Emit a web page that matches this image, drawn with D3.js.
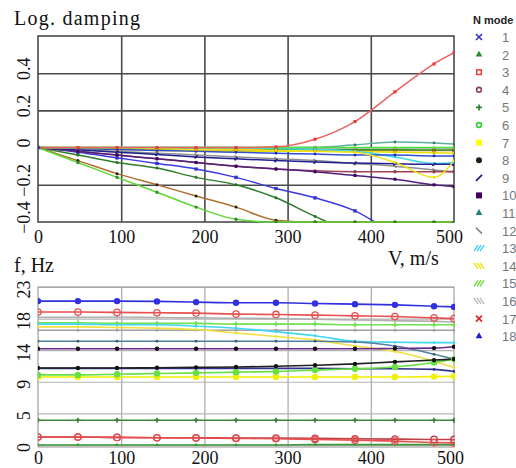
<!DOCTYPE html>
<html><head><meta charset="utf-8">
<script src="https://cdn.jsdelivr.net/npm/d3@7"></script>
<style>body{margin:0;background:#fff}svg{display:block}</style>
</head><body><svg id="c" width="516" height="468"></svg>
<script>
// ---- data ----
const speeds = [0, 48, 95, 143, 190, 238, 286, 333, 381, 429, 476, 500];
const xTicks = [0, 100, 200, 300, 400, 500];
const dampTicks = [0.4, 0.2, 0, -0.2, -0.4];
const dampGrid = [0.4, 0.2, 0, -0.2];
const freqGrid = [0, 4.6, 9.2, 13.8, 18.4, 23];
const freqTickLabels = ["0", "5", "9", "14", "18", "23"];
const modes = [1,2,3,4,5,6,7,8,9,10,11,12,13,14,15,16,17,18];
const modeColors = ["#3333cc","#2e8b2e","#e83c3c","#8b4050","#1f7a1f","#33cc33","#ffff00","#202010","#202080","#400060","#208080","#808080","#33ccff","#f0e000","#66dd33","#b0b0b0","#e02020","#2020cc"];
const modeSymbols = ["x","tri","sq","circ","plus","circ","sqf","dot","slash","sqf","tri","bslash","hatch","bhatch","hatch","bhatch","x","tri"];
const dampLineColors = ["#3a3ae0","#2e9a2e","#f06060","#a04050","#2e7d2e","#44dd44","#e8e000","#b07030","#202090","#50207a","#60b0a0","#909090","#40d8f0","#f0e020","#50e040","#b8b8b8","#e07020","#3050d0"];
const freqLineColors = ["#3a3ae0","#3a9a3a","#e85050","#c04048","#3a8a3a","#66e040","#f0f000","#202020","#303090","#6a2a8a","#5080a0","#a0a0a0","#40d8f0","#f0e040","#70e050","#b0b0b0","#e85050","#3030e0"];
const dampingSeries = [
  [0,-0.025,-0.055,-0.085,-0.115,-0.16,-0.22,-0.27,-0.34,-0.46,-0.52,-0.55],
  [0,-0.004,-0.007,-0.009,-0.01,-0.01,-0.01,-0.01,-0.012,-0.012,-0.013,-0.013],
  [0,0,0,0,0,0,0.004,0.045,0.14,0.30,0.45,0.51],
  [0,-0.02,-0.04,-0.06,-0.08,-0.1,-0.115,-0.125,-0.13,-0.13,-0.13,-0.13],
  [0,-0.04,-0.08,-0.11,-0.16,-0.2,-0.27,-0.37,-0.46,-0.5,-0.52,-0.53],
  [0,-0.08,-0.16,-0.24,-0.32,-0.385,-0.4,-0.4,-0.4,-0.4,-0.4,-0.4],
  [0,-0.005,-0.01,-0.015,-0.018,-0.02,-0.02,-0.02,-0.022,-0.025,-0.028,-0.03],
  [0,-0.07,-0.14,-0.2,-0.26,-0.32,-0.39,-0.4,-0.4,-0.4,-0.4,-0.4],
  [0,-0.012,-0.025,-0.037,-0.05,-0.06,-0.07,-0.078,-0.083,-0.087,-0.09,-0.09],
  [0,-0.02,-0.04,-0.06,-0.08,-0.1,-0.115,-0.13,-0.15,-0.17,-0.2,-0.21],
  [0,0,0,0,0,0,0,0.002,0.015,0.03,0.025,0.02],
  [0,-0.01,-0.02,-0.03,-0.04,-0.05,-0.06,-0.07,-0.085,-0.1,-0.12,-0.13],
  [0,0,0,0,0,0,-0.005,-0.01,-0.02,-0.05,-0.085,-0.08],
  [0,0,0,-0.005,-0.01,-0.01,-0.015,-0.02,-0.025,-0.08,-0.16,-0.07],
  [0,0,0,0,0,0,0,0,0,0,0,0],
  [0,-0.003,-0.004,-0.005,-0.005,-0.005,-0.005,-0.005,-0.005,-0.005,-0.005,-0.005],
  [0,-0.005,-0.008,-0.01,-0.012,-0.013,-0.014,-0.015,-0.015,-0.015,-0.015,-0.015],
  [0,-0.005,-0.01,-0.015,-0.02,-0.025,-0.03,-0.035,-0.04,-0.04,-0.045,-0.045]
];
const frequencySeries = [
  null,
  [0,0,0,0,0,0,0,0.05,0.05,0.05,0.05,0.05],
  [1.15,1.15,1.1,1.05,1.0,0.95,0.9,0.8,0.7,0.55,0.35,0.3],
  [1.15,1.15,1.1,1.05,1.05,1.0,1.0,0.95,0.9,0.85,0.8,0.8],
  [3.6,3.6,3.6,3.6,3.6,3.6,3.6,3.6,3.6,3.6,3.6,3.6],
  [10.2,10.2,10.3,10.4,10.5,10.6,10.7,10.9,11.1,11.35,12.0,12.5],
  [9.9,9.9,9.9,9.9,9.9,9.9,9.9,9.9,9.9,9.9,9.95,10.0],
  [11.2,11.2,11.2,11.25,11.3,11.35,11.45,11.6,11.8,12.1,12.35,12.5],
  [11.15,11.15,11.15,11.15,11.15,11.15,11.15,11.15,11.1,11.1,11.0,10.7],
  [14.0,14.0,14.0,14.0,14.0,14.0,14.0,14.0,14.0,14.05,14.1,14.3],
  [15.1,15.1,15.1,15.1,15.1,15.1,15.1,15.1,15.0,14.4,13.2,12.5],
  [16.7,16.7,16.7,16.7,16.7,16.7,16.7,16.7,16.7,16.7,16.7,16.7],
  [17.6,17.6,17.5,17.5,17.3,17.0,16.5,15.9,15.1,14.95,14.9,14.9],
  [17.2,17.2,17.1,17.0,16.8,16.3,15.8,15.3,14.4,13.6,12.2,11.3],
  [17.8,17.8,17.7,17.7,17.7,17.6,17.6,17.6,17.5,17.5,17.5,17.5],
  [18.6,18.6,18.6,18.55,18.5,18.45,18.4,18.3,18.2,18.1,18.0,17.9],
  [19.35,19.35,19.3,19.25,19.2,19.05,19.0,18.9,18.8,18.7,18.5,18.4],
  [20.95,20.95,20.95,20.9,20.8,20.7,20.7,20.6,20.5,20.4,20.2,20.1]
];
const freqMarkers = [null,"sdot","ocirc","ocirc","plus","fcirc","fcirc","dot","sdot","dot","sdot","sdot","sdot","sdot","plus","sdot","ocirc","fcirc"];

// ---- drawing ----
const svg = d3.select("#c");
const serif = "'Liberation Serif','Times New Roman',serif";
const sans = "'Liberation Sans',Arial,sans-serif";
const x = d3.scaleLinear().domain([0, 500]).range([38, 454]);
const y1 = d3.scaleLinear().domain([-0.4, 0.6]).range([222, 36]);
const y2 = d3.scaleLinear().domain([-0.3, 23]).range([447, 287]);

function sym(g, type, cx, cy, color, s) {
  const t = g.append("g").attr("transform", `translate(${cx},${cy})`);
  const ln = (a,b,c,d,w) => t.append("line").attr("x1",a).attr("y1",b).attr("x2",c).attr("y2",d).attr("stroke",color).attr("stroke-width",w||1.6);
  switch (type) {
    case "x": ln(-s,-s,s,s); ln(-s,s,s,-s); break;
    case "plus": ln(-s,0,s,0); ln(0,-s,0,s); break;
    case "tri": t.append("path").attr("d", d3.symbol(d3.symbolTriangle, s*s*2.2)()).attr("fill", color); break;
    case "sq": t.append("rect").attr("x",-s+0.7).attr("y",-s+0.7).attr("width",2*s-1.4).attr("height",2*s-1.4).attr("fill","none").attr("stroke",color).attr("stroke-width",1.5); break;
    case "sqf": t.append("rect").attr("x",-s).attr("y",-s).attr("width",2*s).attr("height",2*s).attr("fill",color); break;
    case "circ": t.append("circle").attr("r",s-0.6).attr("fill","none").attr("stroke",color).attr("stroke-width",1.6); break;
    case "ocirc": t.append("circle").attr("r",s).attr("fill","none").attr("stroke",color).attr("stroke-width",1.3); break;
    case "dot": t.append("circle").attr("r",s).attr("fill",color); break;
    case "fcirc": t.append("circle").attr("r",s).attr("fill",color); break;
    case "sdot": t.append("circle").attr("r",1.4).attr("fill",color); break;
    case "slash": ln(-s,s,s,-s,1.8); break;
    case "bslash": ln(-s,-s,s,s,1.5); break;
    case "hatch": for (const o of [-3,0,3]) ln(o-2,s,o+2,-s,1.3); break;
    case "bhatch": for (const o of [-3,0,3]) ln(o-2,-s,o+2,s,1.3); break;
  }
}

// clip paths
const defs = svg.append("defs");
defs.append("clipPath").attr("id","clipTop").append("rect").attr("x",38).attr("y",36).attr("width",416).attr("height",187);
defs.append("clipPath").attr("id","clipBot").append("rect").attr("x",38).attr("y",286).attr("width",417).attr("height",162);

// ===== top chart =====
const topG = svg.append("g");
topG.append("g").attr("transform","translate(0,222)")
  .call(d3.axisBottom(x).tickValues([100,200,300,400]).tickSize(-186).tickFormat(""))
  .call(g => g.select(".domain").remove())
  .selectAll("line").attr("stroke","#4a4a4a").attr("stroke-width",1.6);
topG.append("g").attr("transform","translate(38,0)")
  .call(d3.axisLeft(y1).tickValues(dampGrid).tickSize(-416).tickFormat(""))
  .call(g => g.select(".domain").remove())
  .selectAll("line").attr("stroke","#4a4a4a").attr("stroke-width",1.6);
topG.append("rect").attr("x",38).attr("y",36).attr("width",416).attr("height",186)
  .attr("fill","none").attr("stroke","#4a4a4a").attr("stroke-width",1.6);

const lineTop = d3.line().x((d,j) => x(speeds[j])).y(d => y1(d)).curve(d3.curveMonotoneX);
const topData = topG.append("g").attr("clip-path","url(#clipTop)");
const topOrder = [11,15,16,1,6,0,4,7,5,12,3,9,8,17,10,13,14,2];
const topLineColor = i => i === 5 ? "#5ed836" : dampLineColors[i];
topOrder.forEach(i => {
  topData.append("path").attr("d", lineTop(dampingSeries[i])).attr("fill","none")
    .attr("stroke", topLineColor(i)).attr("stroke-width",1.5);
});
topOrder.forEach(i => {
  dampingSeries[i].forEach((v,j) => {
    if (j === 0) return;
    const t = modeSymbols[i];
    const tt = (t === "hatch" || t === "bhatch" || t === "tri") ? "sdot" : t;
    const c = i===5 ? "#3a8a2a" : i===6 ? "#d8d000" : (i===10 ? "#3a7a70" : modeColors[i]);
    sym(topData, tt, x(speeds[j]), y1(v), c, 1.5);
  });
});
topData.append("circle").attr("cx",x(0)).attr("cy",y1(0)).attr("r",2.2).attr("fill","#3333aa");

topG.append("g").attr("transform","translate(0,222)")
  .call(d3.axisBottom(x).tickValues(xTicks).tickSize(0).tickPadding(8).tickFormat(d3.format("d")))
  .call(g => g.select(".domain").remove())
  .selectAll("text").attr("font-family",serif).attr("font-size",18).attr("fill","#111")
  .attr("dx", d => d === 500 ? -5 : 0);
topG.append("g").attr("transform","translate(38,0)")
  .call(d3.axisLeft(y1).tickValues(dampTicks).tickSize(0).tickFormat(d => d === 0 ? "0" : d3.format(".1f")(d)))
  .call(g => g.select(".domain").remove())
  .selectAll("text").attr("font-family",serif).attr("font-size",18).attr("fill","#111")
  .attr("text-anchor","middle").attr("dominant-baseline","central")
  .attr("dy",null).attr("transform","rotate(-90)").attr("x",5).attr("y",-14);

svg.append("text").attr("x",14).attr("y",25).text("Log. damping")
  .attr("font-family",serif).attr("font-size",20).attr("textLength",126).attr("fill","#111");
svg.append("text").attr("x",388).attr("y",265).text("V, m/s")
  .attr("font-family",serif).attr("font-size",20).attr("fill","#111");
svg.append("text").attr("x",14).attr("y",272).text("f, Hz")
  .attr("font-family",serif).attr("font-size",20).attr("fill","#111");

// ===== bottom chart =====
const botG = svg.append("g");
botG.append("g").attr("transform","translate(0,447)")
  .call(d3.axisBottom(x).tickValues([100,200,300,400]).tickSize(-160).tickFormat(""))
  .call(g => g.select(".domain").remove())
  .selectAll("line").attr("stroke","#a8a8a8").attr("stroke-width",1.2);
botG.append("g").attr("transform","translate(38,0)")
  .call(d3.axisLeft(y2).tickValues(freqGrid).tickSize(-416).tickFormat(""))
  .call(g => g.select(".domain").remove())
  .selectAll("line").attr("stroke","#b4b4b4").attr("stroke-width",1.2);
botG.append("rect").attr("x",38).attr("y",287).attr("width",416).attr("height",160)
  .attr("fill","none").attr("stroke","#a0a0a0").attr("stroke-width",1.2);

const lineBot = d3.line().x((d,j) => x(speeds[j])).y(d => y2(d)).curve(d3.curveMonotoneX);
const botData = botG.append("g").attr("clip-path","url(#clipBot)");
const botOrder = [1,3,2,4,15,11,14,12,13,10,9,6,8,5,7,16,17];
botOrder.forEach(i => {
  const s = frequencySeries[i]; if (!s) return;
  botData.append("path").attr("d", lineBot(s)).attr("fill","none")
    .attr("stroke", freqLineColors[i]).attr("stroke-width",1.6);
});
botOrder.forEach(i => {
  const s = frequencySeries[i]; if (!s) return;
  const mc = i===9 || i===7 ? "#111" : i===4 ? "#3a7a3a" : i===10 ? "#406070" : freqLineColors[i];
  s.forEach((v,j) => {
    const t = freqMarkers[i];
    sym(botData, t, x(speeds[j]), y2(v), mc, t === "plus" ? 2.5 : t === "dot" ? 2.2 : 3.2);
  });
});

botG.append("g").attr("transform","translate(0,447)")
  .call(d3.axisBottom(x).tickValues(xTicks).tickSize(0).tickPadding(4).tickFormat(d3.format("d")))
  .call(g => g.select(".domain").remove())
  .selectAll("text").attr("font-family",serif).attr("font-size",18).attr("fill","#111")
  .attr("dx", d => d === 500 ? -4 : 0);
botG.append("g").attr("transform","translate(38,0)")
  .call(d3.axisLeft(y2).tickValues(freqGrid).tickSize(0).tickFormat((d,i) => freqTickLabels[i]))
  .call(g => g.select(".domain").remove())
  .selectAll("text").attr("font-family",serif).attr("font-size",18).attr("fill","#111")
  .attr("text-anchor","middle").attr("dominant-baseline","central")
  .attr("dy",null).attr("transform","rotate(-90)").attr("x",-2).attr("y",-14);

// ===== legend =====
const leg = svg.append("g");
leg.append("text").attr("x",473).attr("y",24).text("N mode")
  .attr("font-family",sans).attr("font-size",11).attr("font-weight","bold").attr("fill","#222");
modes.forEach((m,i) => {
  const cy = 37 + i*17.6;
  sym(leg, modeSymbols[i], 479, cy, modeColors[i], 3);
  leg.append("text").attr("x",502).attr("y",cy+5).text(m)
    .attr("font-family",sans).attr("font-size",13).attr("fill","#777");
});
</script>
</body></html>
